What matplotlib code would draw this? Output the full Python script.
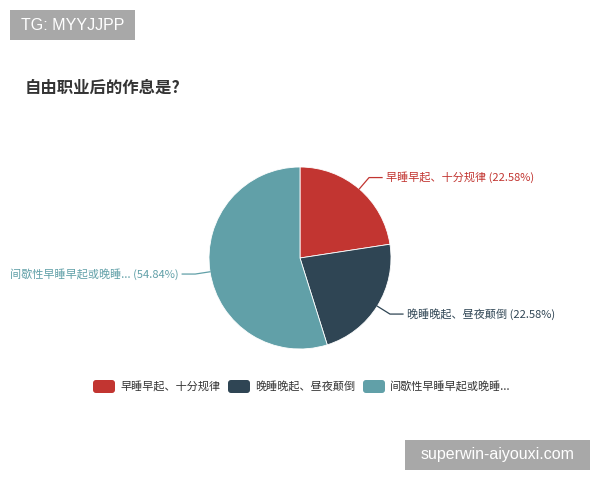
import numpy as np
import matplotlib.pyplot as plt
from matplotlib.patches import FancyBboxPatch, Rectangle

plt.rcParams['font.family'] = ['Noto Sans CJK SC', 'DejaVu Sans']

title = "自由职业后的作息是?"
labels = ["早睡早起、十分规律", "晚睡晚起、昼夜颠倒", "间歇性早睡早起或晚睡..."]
counts = [7, 7, 17]
colors = ["#c23531", "#2f4554", "#61a0a8"]

W, H = 600, 480
fig = plt.figure(figsize=(6, 4.8), dpi=100)
ax = fig.add_axes([0, 0, 1, 1])
ax.set_xlim(0, W)
ax.set_ylim(0, H)
ax.axis('off')


def Y(y):
    # pixel rows from the top
    return H - y


# pie
cx, cy, r = 300, Y(258), 91
wedges, _ = ax.pie(counts, colors=colors, startangle=90, counterclock=False,
                   center=(cx, cy), radius=r,
                   wedgeprops=dict(edgecolor='white', linewidth=0.6))
ax.set_xlim(0, W)
ax.set_ylim(0, H)
ax.set_aspect('equal')

total = sum(counts)
for w, lab, n, col in zip(wedges, labels, counts, colors):
    a = np.deg2rad((w.theta1 + w.theta2) / 2)
    x0, y0 = cx + r * np.cos(a), cy + r * np.sin(a)
    x1, y1 = cx + (r + 15) * np.cos(a), cy + (r + 15) * np.sin(a)
    side = 1 if np.cos(a) >= 0 else -1
    x2 = x1 + side * 13
    ax.plot([x0, x1, x2], [y0, y1, y1], color=col, lw=0.9)
    txt = f"{lab} ({n / total * 100:.2f}%)"
    ax.text(x2 + side * 4, y1, txt, color=col, fontsize=8.0,
            ha='left' if side > 0 else 'right', va='center')

# title
ax.text(25, Y(88), title, fontsize=11.8, fontweight='bold', color='#333333',
        ha='left', va='center')

# legend
leg_x = [93, 228, 363]
for lx, lab, col in zip(leg_x, labels, colors):
    ax.add_patch(FancyBboxPatch((lx, Y(393)), 22, 13,
                                boxstyle="round,pad=0,rounding_size=3",
                                facecolor=col, edgecolor='none'))
    ax.text(lx + 27, Y(386.5), lab, fontsize=8, color='#333333',
            ha='left', va='center')

# watermark boxes
ax.add_patch(Rectangle((10, Y(40)), 125, 30, facecolor='#a8a8a8', edgecolor='none'))
ax.text(72.5, Y(25), "TG: MYYJJPP", fontsize=11.5, color='white',
        ha='center', va='center', family='Liberation Sans')
ax.add_patch(Rectangle((405, Y(470)), 185, 30, facecolor='#a8a8a8', edgecolor='none'))
ax.text(497.5, Y(455), "superwin-aiyouxi.com", fontsize=11.5, color='white',
        ha='center', va='center', family='Liberation Sans')

fig.savefig("out.png", dpi=100)
